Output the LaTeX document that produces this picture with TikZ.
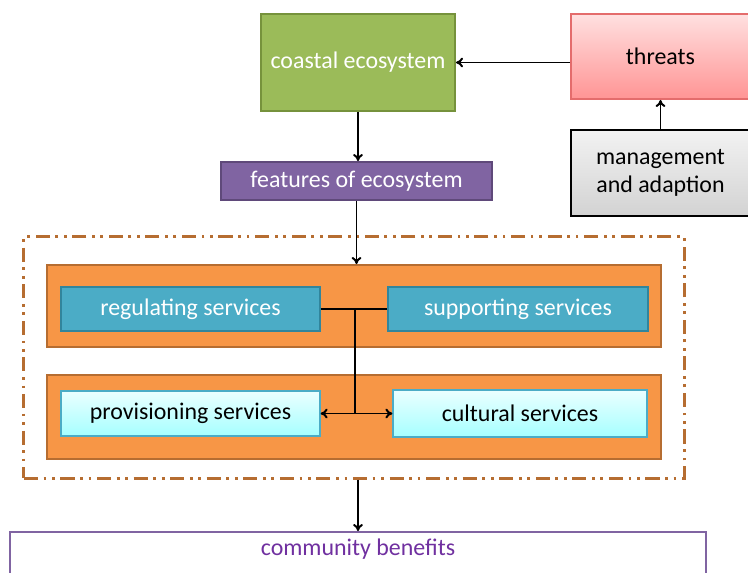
\documentclass[tikz,border=0pt]{standalone}
\usepackage{fontspec}
\setmainfont{Carlito}
\usetikzlibrary{arrows.meta}

\definecolor{ecogreen}{HTML}{9BBB59}
\definecolor{ecogreenline}{HTML}{76923C}
\definecolor{ecopurple}{HTML}{8064A2}
\definecolor{ecopurpleline}{HTML}{5F497A}
\definecolor{benefittext}{HTML}{7030A0}
\definecolor{bandorange}{HTML}{F79646}
\definecolor{bandline}{HTML}{B66D31}
\definecolor{serviceblue}{HTML}{4BACC6}
\definecolor{serviceline}{HTML}{31859C}
\definecolor{threatline}{HTML}{E46C6C}

\begin{document}
\begin{tikzpicture}[x=0.025cm, y=-0.025cm, font=\fontsize{17}{20}\selectfont,
	box/.style={draw, line width=1.4pt, inner sep=2pt, align=center},
	link/.style={line width=1.4pt, -{To[length=5pt,width=7pt]}}]
	\useasboundingbox (0,0) rectangle (748,572);
	% top row
	\node[box, fill=ecogreen, draw=ecogreenline, text=white, minimum width=4.85cm, minimum height=2.425cm] (coastal) at (358,62.5) {coastal ecosystem};
	\node[box, draw=threatline, top color=red!12, bottom color=red!42, minimum width=4.475cm, minimum height=2.125cm] (threats) at (660.5,56.5) {threats};
	\node[box, draw=black, line width=1pt, top color=gray!10, bottom color=gray!35, minimum width=4.475cm, minimum height=2.15cm] (manage) at (660.5,173) {management\\and adaption};
	\node[box, fill=ecopurple, draw=ecopurpleline, text=white, minimum width=6.775cm, minimum height=0.95cm] (features) at (356.5,181) {features of ecosystem};
	% services
	\node[draw=bandline, line width=2.1pt, dash pattern=on 10pt off 4pt on 2pt off 4pt on 2pt off 4pt, minimum width=16.5cm, minimum height=6.025cm] (group) at (354,357.5) {};
	\node[box, fill=bandorange, draw=bandline, minimum width=15.35cm, minimum height=2.05cm] (upper) at (354,306) {};
	\node[box, fill=bandorange, draw=bandline, minimum width=15.35cm, minimum height=2.1cm] (lower) at (354,417) {};
	\node[box, fill=serviceblue, draw=serviceline, line width=1.1pt, text=white, minimum width=6.475cm, minimum height=1.1cm] (regulating) at (190.5,309) {regulating services};
	\node[box, fill=serviceblue, draw=serviceline, line width=1.1pt, text=white, minimum width=6.5cm, minimum height=1.1cm] (supporting) at (518,309) {supporting services};
	\node[box, draw=serviceblue, line width=0.8pt, top color=cyan!8, bottom color=cyan!35, minimum width=6.475cm, minimum height=1.125cm] (provisioning) at (190.5,413.5) {provisioning services};
	\node[box, draw=serviceblue, line width=0.8pt, top color=cyan!8, bottom color=cyan!35, minimum width=6.35cm, minimum height=1.175cm] (cultural) at (520,413.5) {cultural services};
	% benefits
	\node[box, draw=ecopurple, fill=white, text=benefittext, anchor=north, minimum width=17.4cm, minimum height=1.2cm, text depth=12pt] (community) at (358,531) {community benefits};
	% connectors
	\draw[link] (threats.west |- coastal.east) -- (coastal.east);
	\draw[link] (manage.north) -- (threats.south);
	\draw[link] (coastal.south) -- (coastal.south |- features.north);
	\draw[link] (features.south) -- (features.south |- upper.north);
	\coordinate (join) at (355,309);
	\coordinate (split) at (355,413.5);
	\draw[line width=1.4pt] (regulating.east) -- (supporting.west);
	\draw[line width=1.4pt] (join) -- (split);
	\draw[link] (split) -- (provisioning.east);
	\draw[link] (split) -- (cultural.west);
	\draw[link] (group.south -| community.north) -- (community.north);
\end{tikzpicture}
\end{document}
